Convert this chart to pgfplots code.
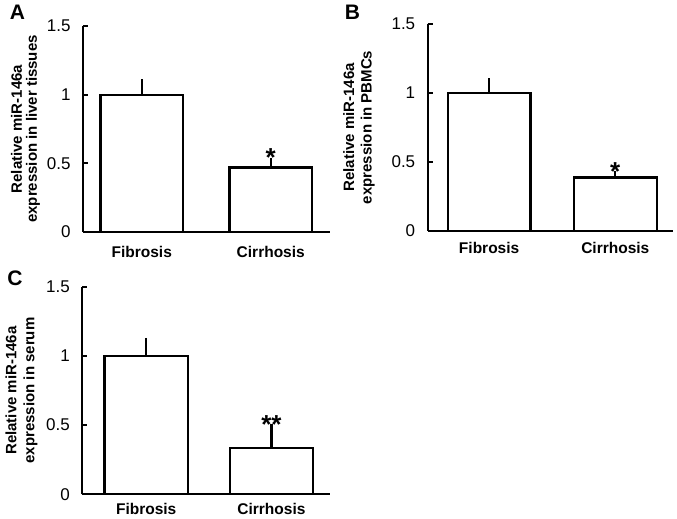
\documentclass[border=0pt]{standalone}
\usepackage{fontspec}
\setmainfont{Liberation Sans}
\usepackage{pgfplots}
\pgfplotsset{compat=1.18}
\pgfplotsset{
 panel/.style={
   scale only axis, width=247bp, height=206bp,
   ymin=0, ymax=1.5, ytick={0,0.5,1,1.5}, yticklabels={0,0.5,1,1.5},
   axis x line*=bottom, axis y line*=left,
   axis line style={line width=2.3bp,-},
   xtick={0,1}, xticklabels={Fibrosis,Cirrhosis},
   xtick style={draw=none},
   ytick style={line width=1.8bp,black},
   major tick length=5bp, tick align=inside,
   ybar, bar width=0.65,
   /pgf/number format/assume math mode=true,
   y tick label style={font=\fontsize{17bp}{19bp}\selectfont, xshift=-9bp},
   x tick label style={font=\fontsize{15.5bp}{18bp}\selectfont\bfseries},
   ylabel style={anchor=center, align=center},
   clip=false,
 },
 ylab/.style 2 args={ylabel style={at={([xshift=-#1]axis description cs:0,0.5)},
     font=\fontsize{15bp}{#2}\selectfont\bfseries}},
 mybar/.style={fill=white, draw=black, line width=2.3bp,
   error bars/.cd, y dir=plus, y explicit,
   error bar style={line width=2.3bp},
   error mark options={line width=2.3bp, mark size=1.5bp}},
}
\tikzset{
 sig/.style={font=\fontsize{26bp}{26bp}\selectfont\bfseries, anchor=base, yshift=-7.5bp, inner sep=0pt},
 letter/.style={font=\fontsize{21bp}{21bp}\selectfont\bfseries, inner sep=0pt},
}
\begin{document}
\begin{tikzpicture}
\useasboundingbox (0,0) rectangle (677bp,519bp);
\begin{axis}[panel, at={(83bp,287bp)}, anchor=south west, xmin=-0.455, xmax=1.459,
  bar width=0.64, xticklabel style={yshift=-6bp}, ylab={57.5bp}{15bp},
  ylabel={Relative miR-146a\\expression in liver tissues}]
\addplot[mybar] coordinates {(0,1) +- (0,0.10) (1,0.47) +- (0,0.06)};
\node[sig] at (axis cs:1,0.53) {*};
\end{axis}
\begin{axis}[panel, at={(427.7bp,288.3bp)}, anchor=south west, width=245bp, height=206.7bp,
  xmin=-0.487, xmax=1.455, bar width=0.657, xticklabel style={yshift=-3.5bp},
  ylab={68.7bp}{17.5bp},
  ylabel={Relative miR-146a\\expression in PBMCs}]
\addplot[mybar] coordinates {(0,1) +- (0,0.097) (1,0.386) +- (0,0.034)};
\node[sig] at (axis cs:1,0.42) {*};
\end{axis}
\begin{axis}[panel, at={(82.3bp,24.7bp)}, anchor=south west, width=248bp, height=207.6bp,
  xmin=-0.51, xmax=1.47, bar width=0.664, xticklabel style={yshift=-0.5bp},
  ylab={60.8bp}{18bp},
  ylabel={Relative miR-146a\\expression in serum}]
\addplot[mybar] coordinates {(0,1) +- (0,0.12) (1,0.337) +- (0,0.159)};
\node[sig] at (axis cs:1,0.496) {**};
\end{axis}
\node[letter] at (17.5bp,506.5bp) {A};
\node[letter] at (352.5bp,506.5bp) {B};
\node[letter] at (15bp,240.5bp) {C};
\end{tikzpicture}
\end{document}
